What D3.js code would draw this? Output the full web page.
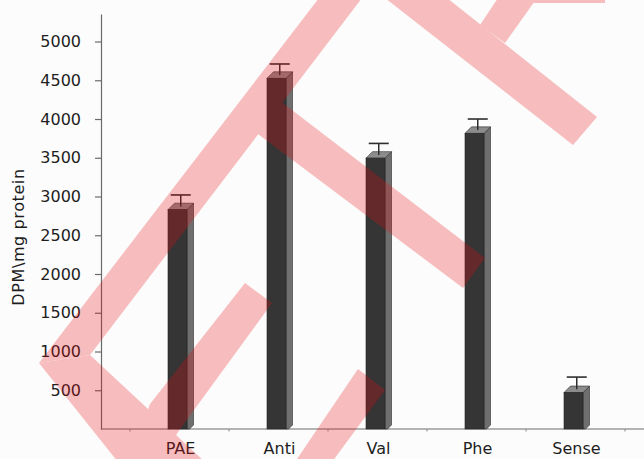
<!DOCTYPE html>
<html>
<head>
<meta charset="utf-8">
<script src="https://cdn.jsdelivr.net/npm/d3@7"></script>
<style>
  html, body { margin: 0; padding: 0; background: #fcfcfc; }
  svg { display: block; }
  text { font-family: "DejaVu Sans", Verdana, sans-serif; fill: #1e1e1e; }
</style>
</head>
<body>
<svg id="chart" width="644" height="459"></svg>
<script>
// ---- data ----
const categories = ["PAE", "Anti", "Val", "Phe", "Sense"];
const values = [2830, 4525, 3495, 3815, 470];
const errors = [190, 185, 190, 185, 200];
const yTicks = [500, 1000, 1500, 2000, 2500, 3000, 3500, 4000, 4500, 5000];
const yTitle = "DPM\\mg protein";

// watermark outline (decorative overlay, not data)
const watermark = [
  [[39,363],[319,-2],[362,-2],[90,355]],
  [[39,363],[90,355],[205,462],[118,462]],
  [[150,404],[245,283],[272,303],[178,432],[160,462],[130,462]],
  [[295,462],[358,369],[385,390],[332,462]],
  [[275,97],[485,258],[463,288],[250,128]],
  [[385,-2],[447,-2],[597,117],[573,145]],
  [[480,25],[505,43],[537,-2],[498,-2]],
  [[530,-2],[605,-2],[605,3],[530,3]]
];

const svg = d3.select("#chart");
const W = 644, H = 459;
const axisX = 101, baseY = 429, topY = 14;

svg.append("rect").attr("width", W).attr("height", H).attr("fill", "#fcfcfc");

const y = d3.scaleLinear().domain([0, 5355]).range([baseY, topY]);
const x = d3.scaleBand().domain(categories).range([130, 625]).paddingInner(0).paddingOuter(0);

// y axis
const yAxis = d3.axisLeft(y).tickValues(yTicks).tickSize(6).tickSizeOuter(0).tickPadding(14)
  .tickFormat(d3.format("d"));
const gy = svg.append("g").attr("transform", `translate(${axisX},0)`).call(yAxis);
gy.select(".domain").attr("stroke", "#6a6a6a").attr("stroke-width", 1.2);
gy.selectAll(".tick line").attr("stroke", "#6a6a6a").attr("stroke-width", 1.2);
gy.selectAll(".tick text").attr("font-size", 16).attr("fill", "#1e1e1e")
  .style("font-family", "'DejaVu Sans', Verdana, sans-serif");

// y title
svg.append("text")
  .attr("transform", `translate(23.5,237) rotate(-90)`)
  .attr("text-anchor", "middle")
  .attr("font-size", 16)
  .attr("letter-spacing", 0.6)
  .text(yTitle);

// x axis line
svg.append("line").attr("x1", axisX).attr("x2", W).attr("y1", baseY).attr("y2", baseY)
  .attr("stroke", "#6a6a6a").attr("stroke-width", 1.2);
// small category boundary ticks
const bounds = categories.map(c => x(c)).concat([x.range()[1]]);
svg.selectAll(".xtick").data(bounds).enter().append("line")
  .attr("x1", d => d).attr("x2", d => d).attr("y1", baseY).attr("y2", baseY + 2.5)
  .attr("stroke", "#8a8a8a").attr("stroke-width", 1);

// x labels
svg.selectAll(".xlab").data(categories).enter().append("text")
  .attr("x", d => x(d) + x.bandwidth() / 2 + 1)
  .attr("y", 454)
  .attr("text-anchor", "middle")
  .attr("font-size", 16)
  .text(d => d);

// bars (pseudo-3D)
const fw = 19, dp = 6.5;
const bars = svg.selectAll(".bar").data(categories.map((c, i) => ({c, v: values[i], e: errors[i]})))
  .enter().append("g");
bars.each(function(d) {
  const g = d3.select(this);
  const x0 = x(d.c) + x.bandwidth() / 2 - fw / 2 - 2;
  const yv = y(d.v);
  // side
  g.append("polygon")
    .attr("points", [[x0 + fw, yv], [x0 + fw + dp, yv - dp], [x0 + fw + dp, baseY - 4], [x0 + fw + dp - 4, baseY], [x0 + fw, baseY]].map(p => p.join(",")).join(" "))
    .attr("fill", "#6f6f6f").attr("stroke", "#2a2a2a").attr("stroke-width", 0.6);
  // top
  g.append("polygon")
    .attr("points", [[x0, yv], [x0 + dp, yv - dp], [x0 + fw + dp, yv - dp], [x0 + fw, yv]].map(p => p.join(",")).join(" "))
    .attr("fill", "#8c8c8c").attr("stroke", "#2a2a2a").attr("stroke-width", 0.6);
  // front
  g.append("rect").attr("x", x0).attr("y", yv).attr("width", fw).attr("height", baseY - yv)
    .attr("fill", "#353535").attr("stroke", "#222").attr("stroke-width", 0.6);
  // error bar
  const cx = x0 + fw / 2 + dp / 2;
  const ye = y(d.v + d.e);
  g.append("line").attr("x1", cx).attr("x2", cx).attr("y1", yv - dp / 2).attr("y2", ye)
    .attr("stroke", "#2e2e2e").attr("stroke-width", 1.5);
  g.append("line").attr("x1", cx - 10).attr("x2", cx + 10).attr("y1", ye).attr("y2", ye)
    .attr("stroke", "#2e2e2e").attr("stroke-width", 1.6);
});

// watermark overlay
const wm = svg.append("g").attr("opacity", 0.26);
wm.selectAll("polygon").data(watermark).enter().append("polygon")
  .attr("points", d => d.map(p => p.join(",")).join(" "))
  .attr("fill", "rgb(235,10,15)");
</script>
</body>
</html>
